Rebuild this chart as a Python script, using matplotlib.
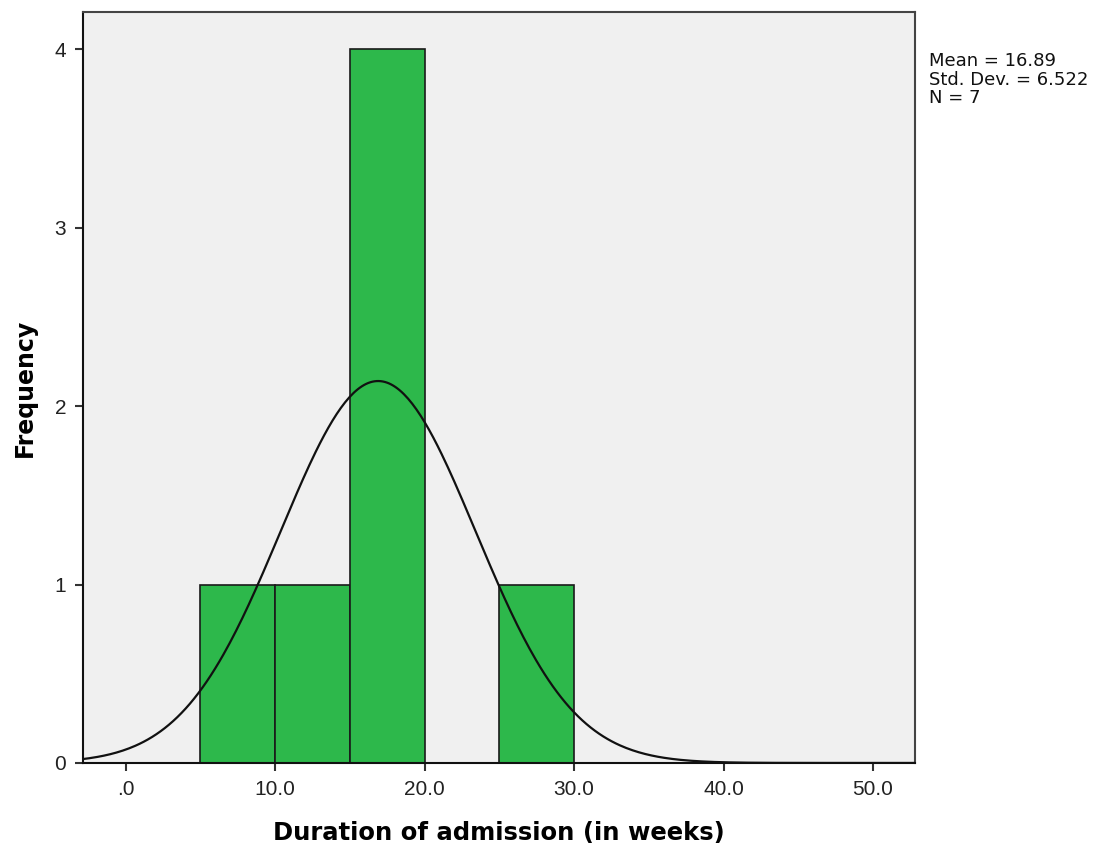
import numpy as np
import matplotlib
matplotlib.use("Agg")
import matplotlib.pyplot as plt

# histogram bins (weeks) and counts
bin_left = [5, 10, 15, 20, 25]
bin_width = 5
counts = [1, 1, 4, 0, 1]

# summary stats shown by SPSS
mean = 16.89
sd = 6.522
n = 7

x_ticks = [0, 10, 20, 30, 40, 50]
x_tick_labels = [".0", "10.0", "20.0", "30.0", "40.0", "50.0"]
y_ticks = [0, 1, 2, 3, 4]


def main():
    fig = plt.figure(figsize=(11.01, 8.52), dpi=100)
    ax = fig.add_axes([0.0754, 0.1045, 0.7556, 0.8815])
    ax.set_facecolor("#f0f0f0")

    ax.bar(bin_left, counts, width=bin_width, align="edge",
           color="#2db84b", edgecolor="#1a1a1a", linewidth=1.2, zorder=2)

    # fitted normal curve scaled to the counts
    xs = np.linspace(-3, 53, 400)
    ys = n * bin_width / (sd * np.sqrt(2 * np.pi)) * np.exp(-0.5 * ((xs - mean) / sd) ** 2)
    ax.plot(xs, ys, color="#111111", linewidth=1.6, zorder=3)

    ax.set_xlim(-2.85, 52.8)
    ax.set_ylim(0, 4.21)
    ax.set_xticks(x_ticks)
    ax.set_xticklabels(x_tick_labels)
    ax.set_yticks(y_ticks)
    ax.tick_params(direction="out", length=6, width=1.5, color="#333333",
                   labelsize=15, pad=6)
    for lab in ax.get_xticklabels() + ax.get_yticklabels():
        lab.set_family("Liberation Sans")
        lab.set_color("#222222")

    for s in ax.spines.values():
        s.set_color("#444444")
        s.set_linewidth(1.5)
    ax.spines["left"].set_color("#111111")
    ax.spines["bottom"].set_color("#111111")

    ax.set_xlabel("Duration of admission (in weeks)", fontsize=17.5,
                  fontweight="bold", family="DejaVu Sans", labelpad=16)
    ax.set_ylabel("Frequency", fontsize=17, fontweight="bold",
                  family="DejaVu Sans", labelpad=13)

    fig.text(0.844, 0.939, "Mean = {:.2f}\nStd. Dev. = {:.3f}\nN = {}".format(mean, sd, n),
             fontsize=13, family="DejaVu Sans", va="top", ha="left",
             linespacing=1.05, color="#111111")

    fig.savefig("out.png", dpi=100)
    return 0


if __name__ == "__main__":
    exit(main())
